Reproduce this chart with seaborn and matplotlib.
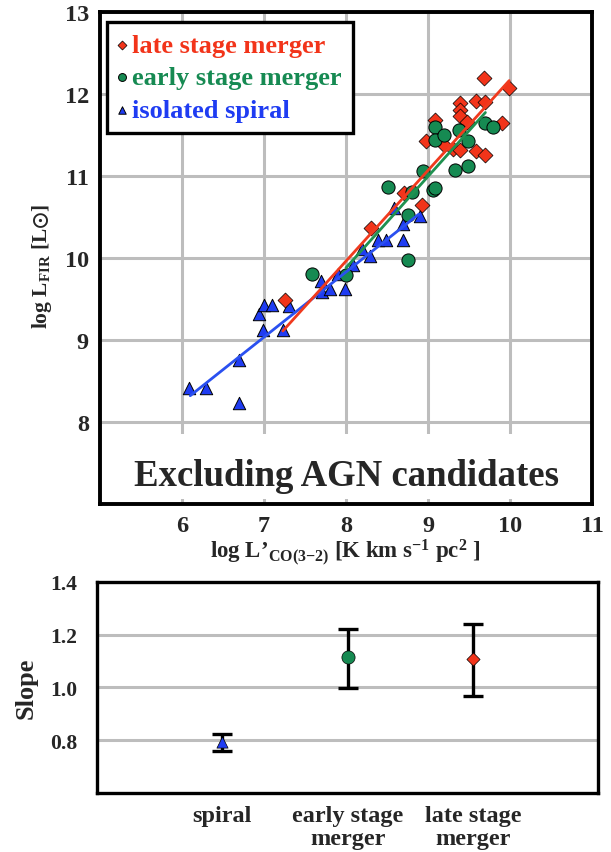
import numpy as np
import pandas as pd
import matplotlib
matplotlib.use("Agg")
import matplotlib.pyplot as plt
import seaborn as sns

# ---------------- data ----------------
late_x = [7.25, 8.30, 8.71, 8.93, 8.98, 9.08, 9.20, 9.30, 9.39, 9.39, 9.39, 9.39,
          9.48, 9.58, 9.58, 9.69, 9.69, 9.685, 9.90, 9.99]
late_y = [9.49, 10.36, 10.79, 10.65, 11.43, 11.68, 11.38, 11.33, 11.32, 11.89, 11.80, 11.73,
          11.66, 11.92, 11.31, 11.90, 11.26, 12.20, 11.64, 12.07]

early_x = [7.58, 8.00, 8.51, 8.75, 8.75, 8.81, 8.94, 9.06, 9.09, 9.09, 9.09, 9.19,
           9.33, 9.38, 9.49, 9.49, 9.69, 9.79]
early_y = [9.81, 9.79, 10.87, 10.53, 9.97, 10.80, 11.06, 10.83, 10.85, 11.60, 11.44, 11.50,
           11.07, 11.56, 11.43, 11.12, 11.64, 11.60]

spiral_x = [6.09, 6.29, 6.70, 6.70, 6.94, 7.00, 7.10, 7.30, 6.99, 7.23, 7.69, 7.71,
            7.80, 7.90, 7.99, 8.09, 8.20, 8.29, 8.39, 8.49, 8.69, 8.69, 8.90, 8.59]
spiral_y = [8.42, 8.42, 8.76, 8.23, 9.32, 9.43, 9.43, 9.42, 9.12, 9.12, 9.72, 9.58,
            9.62, 9.81, 9.62, 9.91, 10.11, 10.02, 10.22, 10.22, 10.22, 10.41, 10.51, 10.61]

group_names = ["late stage merger", "early stage merger", "isolated spiral"]

# linear fits  log LFIR = slope * log L'CO + intercept
fit_slope = [1.106, 1.114, 0.794]
fit_intercept = [1.114, 0.968, 3.477]
fit_xmin = [7.23, 8.00, 6.10]
fit_xmax = [9.99, 9.70, 8.89]

# slope panel
slope_cats = ["spiral", "early stage\nmerger", "late stage\nmerger"]
slope_val = [0.794, 1.114, 1.106]
slope_err_low = [0.034, 0.115, 0.139]
slope_err_high = [0.031, 0.107, 0.134]

# ---------------- style ----------------
sns.set_style("white")
plt.rcParams["font.family"] = ["Liberation Serif", "DejaVu Serif"]
plt.rcParams["font.weight"] = "bold"
plt.rcParams["mathtext.fontset"] = "custom"
plt.rcParams["mathtext.rm"] = "Liberation Serif:bold"
plt.rcParams["mathtext.default"] = "regular"
plt.rcParams["mathtext.fallback"] = "stix"

RED = "#f2341a"
GREEN = "#168a52"
BLUE = "#1f3cf2"
LRED = "#f03a1e"
LGREEN = "#1f9150"
LBLUE = "#2a50f0"
GRID = "#bdbdbd"

fig = plt.figure(figsize=(6.11, 8.53), dpi=100)
ax = fig.add_axes([0.1637, 0.4080, 0.8052, 0.5768])
ax2 = fig.add_axes([0.1588, 0.0692, 0.8200, 0.2474])

# ---------------- top panel ----------------
df_sp = pd.DataFrame({"x": spiral_x, "y": spiral_y})
df_lt = pd.DataFrame({"x": late_x, "y": late_y})
df_er = pd.DataFrame({"x": early_x, "y": early_y})

sns.scatterplot(data=df_sp, x="x", y="y", marker="^", color=BLUE, s=80,
                edgecolor="black", linewidth=0.7, ax=ax, zorder=3, label=group_names[2])
sns.scatterplot(data=df_lt, x="x", y="y", marker="D", color=RED, s=58,
                edgecolor="black", linewidth=0.5, ax=ax, zorder=3, label=group_names[0])
sns.scatterplot(data=df_er, x="x", y="y", marker="o", color=GREEN, s=90,
                edgecolor="black", linewidth=0.7, ax=ax, zorder=3, label=group_names[1])

line_cols = [LRED, LGREEN, LBLUE]
for i in [2, 1, 0]:
    xs = np.array([fit_xmin[i], fit_xmax[i]])
    ys = fit_slope[i] * xs + fit_intercept[i]
    sns.lineplot(x=xs, y=ys, color=line_cols[i], linewidth=2.0, ax=ax, zorder=4,
                 legend=False)

ax.set_xlim(5, 11)
ax.set_ylim(7, 13)
ax.set_xticks([6, 7, 8, 9, 10, 11])
ax.set_yticks([8, 9, 10, 11, 12, 13])
ax.set_xticklabels(["6", "7", "8", "9", "10", "11"])
ax.set_yticklabels(["8", "9", "10", "11", "12", "13"])
ax.tick_params(axis="both", length=0, labelsize=17.5)
ax.tick_params(axis="x", pad=8)
ax.tick_params(axis="y", pad=8)
ax.set_axisbelow(True)
ax.grid(True, color=GRID, linewidth=2.2)
ax.set_xlabel("")
ax.set_ylabel("")
for sp in ax.spines.values():
    sp.set_linewidth(2.8)
    sp.set_color("black")

ax.axhspan(7.06, 7.85, color="white", zorder=1, linewidth=0)
ax.text(8.0, 7.35, "Excluding AGN candidates", ha="center", va="center",
        fontsize=26.5, fontweight="bold", zorder=5)

ax.text(-0.118, 0.484, "log L$_{\\mathregular{FIR}}$ [L$\\odot$]", transform=ax.transAxes,
        rotation=90, ha="center", va="center", fontsize=15.5, fontweight="bold")
ax.text(0.498, -0.097,
        "log L\u2019$_{\\mathregular{CO(3{-}2)}}$ [K km s$^{\\mathregular{-1}}$ pc$^{\\mathregular{2}}$ ]",
        transform=ax.transAxes, ha="center", va="center", fontsize=16.5, fontweight="bold")

handles, labels = ax.get_legend_handles_labels()
order = [labels.index(n) for n in group_names]
leg = ax.legend([handles[i] for i in order], [labels[i] for i in order],
                loc="upper left", bbox_to_anchor=(0.014, 0.98), borderaxespad=0,
                prop={"family": "Liberation Serif", "weight": "bold", "size": 19},
                labelcolor=[RED, GREEN, BLUE], fancybox=False, framealpha=1,
                edgecolor="black", markerscale=0.6, handlelength=0.25,
                handletextpad=0.25, labelspacing=0.33, borderpad=0.45)
leg.get_frame().set_linewidth(2.4)

# ---------------- bottom panel ----------------
pos = np.arange(1, len(slope_cats) + 1)
df_sl = pd.DataFrame({"pos": pos, "slope": slope_val})
ax2.errorbar(pos, slope_val, yerr=[slope_err_low, slope_err_high], fmt="none",
             ecolor="black", elinewidth=2.4, capsize=7, capthick=2.4, zorder=3)
mk = ["^", "o", "D"]
cl = [BLUE, GREEN, RED]
sz = [65, 90, 45]
for i in range(len(pos)):
    sns.scatterplot(data=df_sl.iloc[[i]], x="pos", y="slope", marker=mk[i], color=cl[i],
                    s=sz[i], edgecolor="black", linewidth=0.5, ax=ax2, zorder=4)

ax2.set_xlim(0, 4)
ax2.set_ylim(0.6, 1.4)
ax2.set_xticks(pos)
ax2.set_xticklabels(slope_cats, fontsize=17.5, fontweight="bold", linespacing=1.1)
ax2.set_yticks([0.8, 1.0, 1.2, 1.4])
ax2.set_yticklabels(["0.8", "1.0", "1.2", "1.4"], fontsize=15.5, fontweight="bold")
ax2.tick_params(axis="both", length=0)
ax2.tick_params(axis="x", pad=9)
ax2.tick_params(axis="y", pad=14)
ax2.set_axisbelow(True)
ax2.grid(True, axis="y", color=GRID, linewidth=2.2)
ax2.grid(False, axis="x")
ax2.set_xlabel("")
ax2.set_ylabel("")
ax2.text(-0.141, 0.5, "Slope", transform=ax2.transAxes, rotation=90,
         ha="center", va="center", fontsize=19, fontweight="bold")
for sp in ax2.spines.values():
    sp.set_linewidth(2.4)
    sp.set_color("black")

fig.savefig("out.png", dpi=100)
